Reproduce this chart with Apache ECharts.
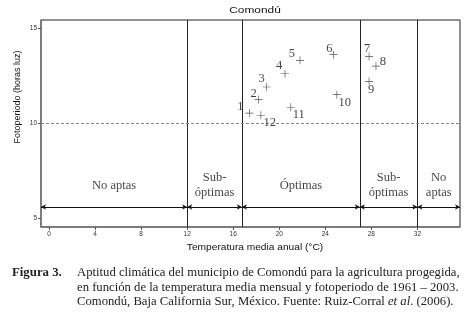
<!DOCTYPE html>
<html>
<head>
<meta charset="utf-8">
<script src="https://cdn.jsdelivr.net/npm/echarts@6/dist/echarts.min.js"></script>
<style>
  html, body { margin: 0; padding: 0; background: #fff; }
  #chart { width: 467px; height: 318px; }
</style>
</head>
<body>
<div id="chart"></div>
<script>
// mes -> temperatura media (°C) y fotoperiodo (horas luz)
var months = ["1", "2", "3", "4", "5", "6", "7", "8", "9", "10", "11", "12"];
var temps = [17.4, 18.2, 18.9, 20.5, 21.8, 24.7, 27.8, 28.4, 27.8, 25.0, 21.0, 18.4];
var photo = [10.53, 11.25, 11.9, 12.6, 13.3, 13.6, 13.5, 13.0, 12.2, 11.5, 10.84, 10.42];
// where each month number sits around its cross (px)
var labelOffsets = [[-9, -6], [-5, -6], [-5, -8], [-6, -8], [-8, -7], [-4, -6],
                    [-2, -8], [7, -4], [2, 8], [8, 8], [8, 8], [9, 8]];

var xTicks = [0, 4, 8, 12, 16, 20, 24, 28, 32];
var yTicks = [5, 10, 15];
var zoneBounds = [12, 16.75, 27, 32];
var zoneNames = ["No aptas", "Sub-\nóptimas", "Óptimas", "Sub-\nóptimas", "No\naptas"];
var thresholdPhoto = 10;

var xMin = -0.7, xMax = 35.7, yMin = 4.55, yMax = 15.42;
var arrowY = 5.6, zoneLabelY = 6.72;

var edges = [xMin].concat(zoneBounds, [xMax]);

var arrowLines = [];
var zoneLabels = [];
for (var i = 0; i < edges.length - 1; i++) {
  arrowLines.push([{ coord: [edges[i], arrowY] }, { coord: [edges[i + 1], arrowY] }]);
  zoneLabels.push({ value: [(edges[i] + edges[i + 1]) / 2, zoneLabelY], name: zoneNames[i] });
}

var points = temps.map(function (t, i) {
  return {
    value: [t, photo[i]],
    name: months[i],
    label: { offset: labelOffsets[i] }
  };
});

var serif = "Liberation Serif";
var sans = "Liberation Sans";

var chart = echarts.init(document.getElementById("chart"));
chart.setOption({
  animation: false,
  grid: { left: 41, top: 20, right: 7, bottom: 91, show: true, borderColor: "#222", borderWidth: 1 },
  xAxis: {
    type: "value",
    min: xMin,
    max: xMax,
    splitLine: { show: false },
    axisLine: { show: true, onZero: false, lineStyle: { color: "#777", width: 1.5 } },
    axisTick: { show: true, customValues: xTicks, length: 3, lineStyle: { color: "#555" } },
    axisLabel: { customValues: xTicks, fontFamily: sans, fontSize: 6.5, color: "#333", margin: 4 }
  },
  yAxis: {
    type: "value",
    min: yMin,
    max: yMax,
    splitLine: { show: false },
    axisLine: { show: true, onZero: false, lineStyle: { color: "#777", width: 1.5 } },
    axisTick: { show: true, customValues: yTicks, length: 3, lineStyle: { color: "#555" } },
    axisLabel: { customValues: yTicks, fontFamily: sans, fontSize: 6.5, color: "#333", margin: 4 }
  },
  graphic: [
    {
      type: "text",
      x: 255,
      y: 10,
      scaleX: 1.25,
      style: {
        text: "Comondú",
        font: "9.5px " + sans,
        fill: "#111",
        align: "center",
        verticalAlign: "middle"
      }
    },
    {
      type: "text",
      x: 255,
      y: 247,
      scaleX: 1.07,
      style: {
        text: "Temperatura media anual (°C)",
        font: "9.5px " + sans,
        fill: "#111",
        align: "center",
        verticalAlign: "middle"
      }
    },
    {
      type: "text",
      x: 18,
      y: 97,
      rotation: Math.PI / 2,
      style: {
        text: "Fotoperiodo (horas luz)",
        font: "9px " + sans,
        fill: "#111",
        align: "center",
        verticalAlign: "middle"
      }
    },
    {
      type: "text",
      left: 12,
      top: 266,
      style: { text: "Figura 3.", font: "bold 12.8px " + serif, fill: "#222" }
    },
    {
      type: "text",
      left: 77,
      top: 265.5,
      style: {
        text: "Aptitud climática del municipio de Comondú para la agricultura progegida,\n" +
              "en función de la temperatura media mensual y fotoperiodo de 1961 – 2003.\n" +
              "Comondú, Baja California Sur, México. Fuente: Ruiz-Corral {i|et al}. (2006).",
        font: "12.7px " + serif,
        fill: "#222",
        lineHeight: 14.6,
        rich: { i: { fontStyle: "italic", fontFamily: serif, fontSize: 12.7, fill: "#222" } }
      }
    }
  ],
  series: [
    {
      type: "scatter",
      data: points,
      symbol: "path://M4.6,0h0.8v10h-0.8z M0,4.6h10v0.8h-10z",
      symbolSize: 8,
      itemStyle: { color: "#222" },
      label: {
        show: true,
        position: "inside",
        formatter: "{b}",
        fontFamily: serif,
        fontSize: 12.5,
        color: "#111"
      },
      markLine: {
        silent: true,
        symbol: "none",
        label: { show: false },
        data: zoneBounds.map(function (b) {
          return { xAxis: b, lineStyle: { type: "solid", color: "#222", width: 1 } };
        }).concat([
          { yAxis: thresholdPhoto, lineStyle: { type: [3, 2], color: "#888", width: 1.2 } }
        ])
      },
      z: 5
    },
    {
      type: "scatter",
      data: zoneLabels,
      symbolSize: 0,
      label: {
        show: true,
        position: "inside",
        formatter: "{b}",
        fontFamily: serif,
        fontSize: 12.5,
        lineHeight: 15,
        color: "#111"
      },
      markLine: {
        silent: true,
        symbol: ["arrow", "arrow"],
        symbolSize: [4, 5],
        label: { show: false },
        lineStyle: { type: "solid", color: "#111", width: 1 },
        data: arrowLines
      }
    }
  ]
});
</script>
</body>
</html>
